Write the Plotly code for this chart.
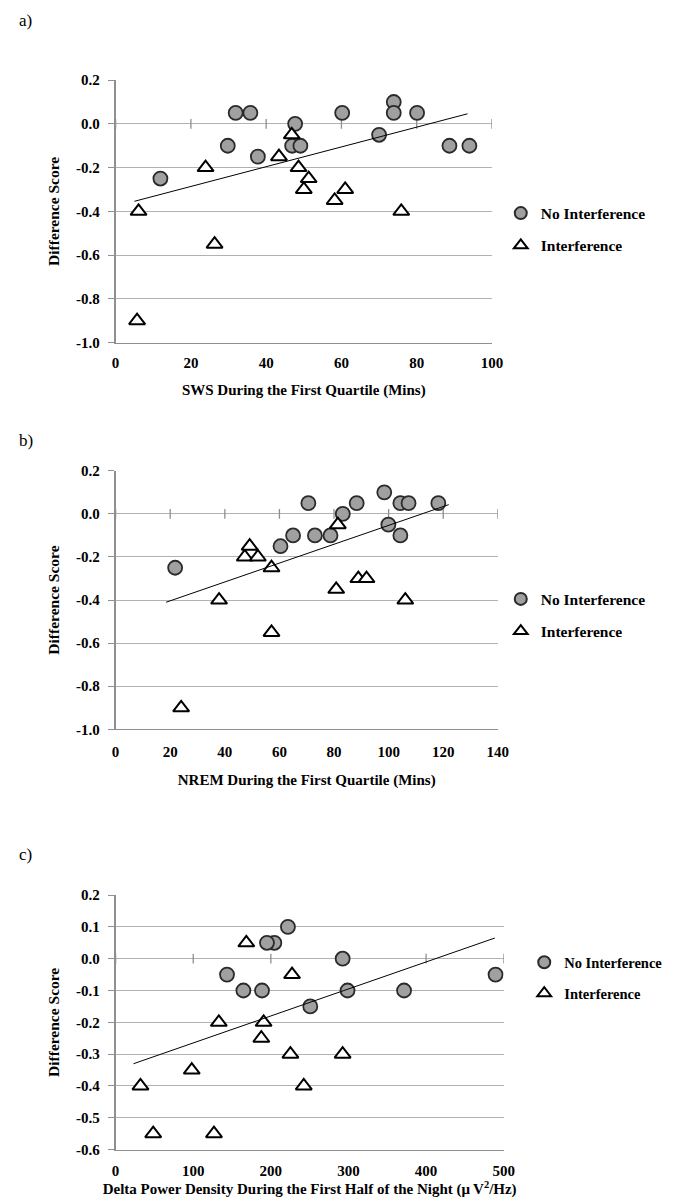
import plotly.graph_objects as go

# ---------------- Data ----------------
# Panel a: SWS during the first quartile (mins)
a_noint_x = [11.9, 31.9, 35.8, 29.8, 37.8, 47.7, 46.9, 49.1, 60.2, 70.0, 73.9, 73.9, 80.1, 88.7, 94.0]
a_noint_y = [-0.25, 0.05, 0.05, -0.10, -0.15, 0.0, -0.10, -0.10, 0.05, -0.05, 0.10, 0.05, 0.05, -0.10, -0.10]
a_int_x = [6.1, 5.7, 23.9, 26.3, 43.4, 46.8, 48.6, 51.3, 50.0, 58.2, 61.0, 75.9]
a_int_y = [-0.40, -0.90, -0.20, -0.55, -0.15, -0.05, -0.20, -0.25, -0.30, -0.35, -0.30, -0.40]
a_trend_x = [5.0, 93.5]
a_trend_y = [-0.354, 0.046]

# Panel b: NREM during the first quartile (mins)
b_noint_x = [21.8, 70.6, 83.2, 88.3, 65.0, 73.0, 78.7, 60.4, 98.4, 104.3, 107.3, 99.9, 104.3, 118.2]
b_noint_y = [-0.25, 0.05, 0.0, 0.05, -0.10, -0.10, -0.10, -0.15, 0.10, 0.05, 0.05, -0.05, -0.10, 0.05]
b_int_x = [37.9, 24.0, 47.3, 49.1, 52.1, 57.1, 57.1, 81.4, 80.8, 88.9, 91.9, 106.1]
b_int_y = [-0.40, -0.90, -0.20, -0.15, -0.20, -0.25, -0.55, -0.05, -0.35, -0.30, -0.30, -0.40]
b_trend_x = [18.5, 122.0]
b_trend_y = [-0.41, 0.043]

# Panel c: delta power density during the first half of the night
c_noint_x = [222.0, 204.5, 195.0, 143.5, 164.6, 188.6, 292.5, 298.8, 250.8, 371.6, 489.5]
c_noint_y = [0.10, 0.05, 0.05, -0.05, -0.10, -0.10, 0.0, -0.10, -0.15, -0.10, -0.05]
c_int_x = [168.4, 227.3, 133.0, 190.7, 187.7, 225.2, 292.5, 98.1, 32.0, 242.4, 48.4, 126.7]
c_int_y = [0.05, -0.05, -0.20, -0.20, -0.25, -0.30, -0.30, -0.35, -0.40, -0.40, -0.55, -0.55]
c_trend_x = [23.1, 488.6]
c_trend_y = [-0.33, 0.065]

panel_labels = ["a)", "b)", "c)"]
x_titles = ["SWS During the First Quartile (Mins)",
            "NREM During the First Quartile (Mins)",
            "Delta Power Density During the First Half of the Night (\u03bc\u2009V<sup>2</sup>/Hz)"]
y_title = "Difference Score"
legend_names = ["No Interference", "Interference"]

a_xticks = [0, 20, 40, 60, 80, 100]
b_xticks = [0, 20, 40, 60, 80, 100, 120, 140]
c_xticks = [0, 100, 200, 300, 400, 500]
ab_yticks = [0.2, 0.0, -0.2, -0.4, -0.6, -0.8, -1.0]
c_yticks = [0.2, 0.1, 0.0, -0.1, -0.2, -0.3, -0.4, -0.5, -0.6]

# ---------------- Figure ----------------
# The page body has an 8 px default margin, so the figure is drawn 8 px in.
OFF = 8
W, H = 676 - OFF, 1203 - OFF
FONT = "Liberation Serif"
GRID = "#b2b2b2"
AXIS = "#8f8f8f"


def sx(p):
    return (p - OFF) / W


def sy(p):
    return 1 - (p - OFF) / H


def fmt(v):
    return "%.1f" % v  # plain hyphen-minus, as in the reference


panels = [
    dict(noint=(a_noint_x, a_noint_y), inter=(a_int_x, a_int_y), trend=(a_trend_x, a_trend_y),
         xticks=a_xticks, yticks=ab_yticks, xr=[0, 100], yr=[-1.0, 0.2],
         xdom=[114, 499], ydom=[73, 339], leg=(508, 191), lab=(13, 13),
         xstand=14, xtsize=15, tls=6, legsize=15.5),
    dict(noint=(b_noint_x, b_noint_y), inter=(b_int_x, b_int_y), trend=(b_trend_x, b_trend_y),
         xticks=b_xticks, yticks=ab_yticks, xr=[0, 140], yr=[-1.0, 0.2],
         xdom=[114, 505], ydom=[469, 731], leg=(508, 582), lab=(13, 438),
         xstand=15, xtsize=15, tls=9, legsize=15.5),
    dict(noint=(c_noint_x, c_noint_y), inter=(c_int_x, c_int_y), trend=(c_trend_x, c_trend_y),
         xticks=c_xticks, yticks=c_yticks, xr=[0, 500], yr=[-0.6, 0.2],
         xdom=[114, 511], ydom=[899, 1157], leg=(532, 951), lab=(13, 858),
         xstand=3, xtsize=15, tls=7, legsize=14.5),
]

fig = go.Figure()
layout = {}
annotations = []

for i, p in enumerate(panels):
    n = "" if i == 0 else str(i + 1)
    xa, ya = "x" + n, "y" + n
    leg = "legend" + n
    # small tick marks of the horizontal axis, which crosses at y = 0
    fig.add_trace(go.Scatter(
        x=p["xticks"], y=[0] * len(p["xticks"]), mode="markers", showlegend=False,
        hoverinfo="skip", xaxis=xa, yaxis=ya,
        marker=dict(symbol="line-ns", size=7, line=dict(color=AXIS, width=1.3))))
    fig.add_trace(go.Scatter(
        x=p["noint"][0], y=p["noint"][1], mode="markers", name=legend_names[0],
        xaxis=xa, yaxis=ya, legend=leg, legendgroup="g1" + n,
        marker=dict(symbol="circle", size=14, color="#a0a0a0",
                    line=dict(color="#2a2a2a", width=1.8))))
    fig.add_trace(go.Scatter(
        x=p["inter"][0], y=p["inter"][1], mode="markers", name=legend_names[1],
        xaxis=xa, yaxis=ya, legend=leg, legendgroup="g2" + n,
        marker=dict(symbol="triangle-up", size=14, color="white",
                    line=dict(color="black", width=2))))
    fig.add_trace(go.Scatter(
        x=p["trend"][0], y=p["trend"][1], mode="lines", showlegend=False,
        xaxis=xa, yaxis=ya, line=dict(color="black", width=1)))

    layout["xaxis" + n] = dict(
        domain=[sx(p["xdom"][0]), sx(p["xdom"][1])], range=p["xr"],
        anchor=ya, tickvals=p["xticks"], showgrid=False, zeroline=False,
        showline=True, linecolor=AXIS, linewidth=1.3, ticks="", ticklabelstandoff=p["tls"],
        tickfont=dict(family=FONT, size=15, color="black", weight="bold"),
        title=dict(text=x_titles[i], font=dict(family=FONT, size=p["xtsize"], color="black", weight="bold"),
                   standoff=p["xstand"]))
    layout["yaxis" + n] = dict(
        domain=[sy(p["ydom"][1]), sy(p["ydom"][0])], range=p["yr"],
        anchor=xa, tickvals=p["yticks"], ticktext=[fmt(v) for v in p["yticks"]],
        showgrid=True, gridcolor=GRID, gridwidth=1.3, zeroline=False,
        showline=True, linecolor=AXIS, linewidth=1.5,
        ticks="outside", ticklen=6, tickcolor=AXIS, tickwidth=1.3, ticklabelstandoff=5,
        tickfont=dict(family=FONT, size=15, color="black", weight="bold"),
        title=dict(text=y_title, font=dict(family=FONT, size=15.5, color="black", weight="bold"),
                   standoff=13))
    layout[leg] = dict(
        x=sx(p["leg"][0]), y=sy(p["leg"][1]), xanchor="left", yanchor="top",
        bgcolor="rgba(0,0,0,0)", itemwidth=30, tracegroupgap=9, itemsizing="constant",
        font=dict(family=FONT, size=p["legsize"], color="black", weight="bold"))
    annotations.append(dict(
        text=panel_labels[i], x=sx(p["lab"][0]), y=sy(p["lab"][1]),
        xref="paper", yref="paper", xanchor="left", yanchor="middle", showarrow=False,
        font=dict(family=FONT, size=17, color="black")))

fig.update_layout(
    width=W, height=H, margin=dict(l=0, r=0, t=0, b=0),
    paper_bgcolor="white", plot_bgcolor="white",
    annotations=annotations, **layout)

fig.write_html("out.html")
